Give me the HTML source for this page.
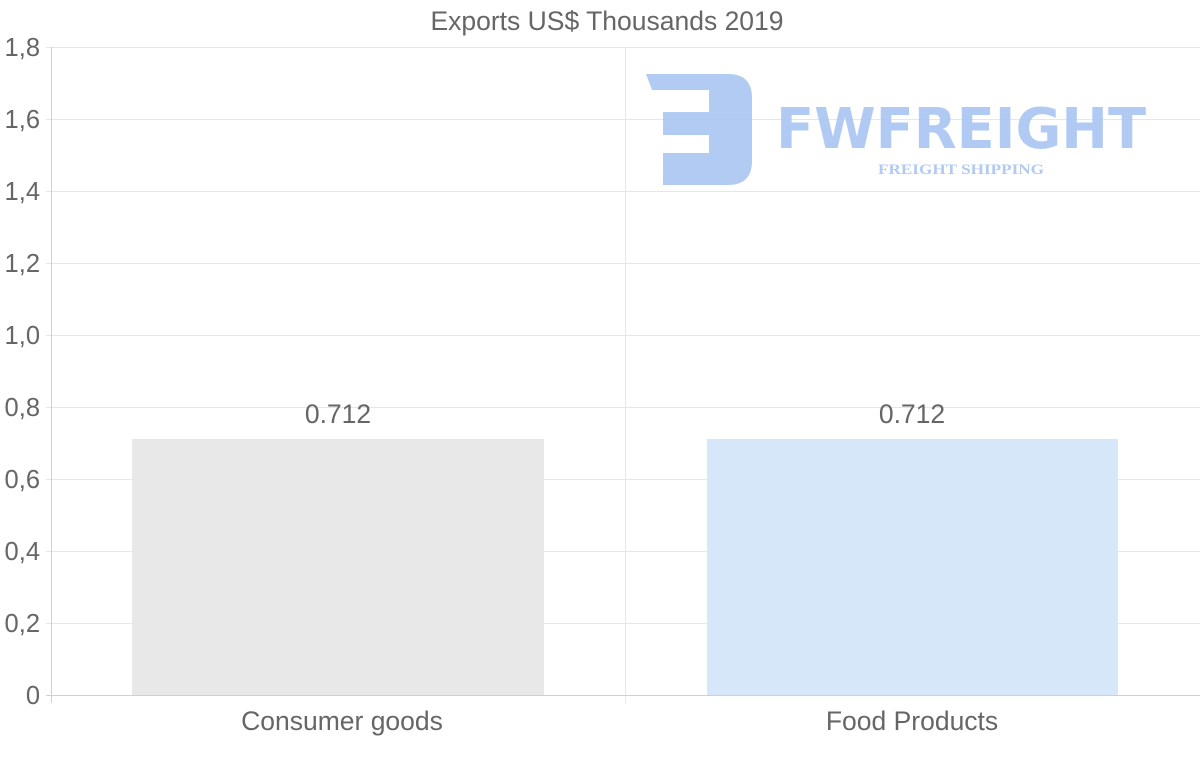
<!DOCTYPE html>
<html><head><meta charset="utf-8"><style>html,body{margin:0;padding:0;background:#fff}svg{display:block}</style></head>
<body>
<svg width="1200" height="763" viewBox="0 0 1200 763" xmlns="http://www.w3.org/2000/svg" font-family="Liberation Sans, sans-serif">
<rect width="1200" height="763" fill="#fff"/>
<text x="607" y="30" text-anchor="middle" font-size="26.5" fill="#666">Exports US$ Thousands 2019</text>
<g stroke="#e6e6e6" stroke-width="1">
<line x1="46" y1="47.5" x2="1200" y2="47.5"/>
<line x1="46" y1="119.5" x2="1200" y2="119.5"/>
<line x1="46" y1="191.5" x2="1200" y2="191.5"/>
<line x1="46" y1="263.5" x2="1200" y2="263.5"/>
<line x1="46" y1="335.5" x2="1200" y2="335.5"/>
<line x1="46" y1="407.5" x2="1200" y2="407.5"/>
<line x1="46" y1="479.5" x2="1200" y2="479.5"/>
<line x1="46" y1="551.5" x2="1200" y2="551.5"/>
<line x1="46" y1="623.5" x2="1200" y2="623.5"/>
<line x1="625.5" y1="47" x2="625.5" y2="703"/>
</g>
<g fill="#a9c5f2" opacity="0.9">
<path d="M646 74 H728 Q752 74 752 98 V161 Q752 185 728 185 H663 V153 H709 V135 H663 V112 H709 V90 H652 Z"/>
<text x="776" y="148" font-size="56" font-weight="bold" textLength="370" lengthAdjust="spacingAndGlyphs" font-family="DejaVu Sans, sans-serif">FWFREIGHT</text>
<text x="878" y="174" font-size="15" font-weight="bold" textLength="166" lengthAdjust="spacingAndGlyphs" font-family="Liberation Serif, serif">FREIGHT SHIPPING</text>
</g>
<rect x="132" y="439" width="412" height="256" fill="#e8e8e8"/>
<rect x="707" y="439" width="411" height="256" fill="#d6e7f9"/>
<line x1="51.5" y1="47" x2="51.5" y2="703" stroke="#d0d0d0"/>
<line x1="46" y1="695.5" x2="1200" y2="695.5" stroke="#d0d0d0"/>
<g font-size="25.5" fill="#666" text-anchor="end">
<text x="40" y="56">1,8</text>
<text x="40" y="128">1,6</text>
<text x="40" y="200">1,4</text>
<text x="40" y="272">1,2</text>
<text x="40" y="344">1,0</text>
<text x="40" y="416">0,8</text>
<text x="40" y="488">0,6</text>
<text x="40" y="560">0,4</text>
<text x="40" y="632">0,2</text>
<text x="40" y="704">0</text>
</g>
<g font-size="26.5" fill="#666" text-anchor="middle">
<text x="338" y="423">0.712</text>
<text x="912" y="423">0.712</text>
<text x="342" y="730">Consumer goods</text>
<text x="912" y="730">Food Products</text>
</g>
</svg>
</body></html>
